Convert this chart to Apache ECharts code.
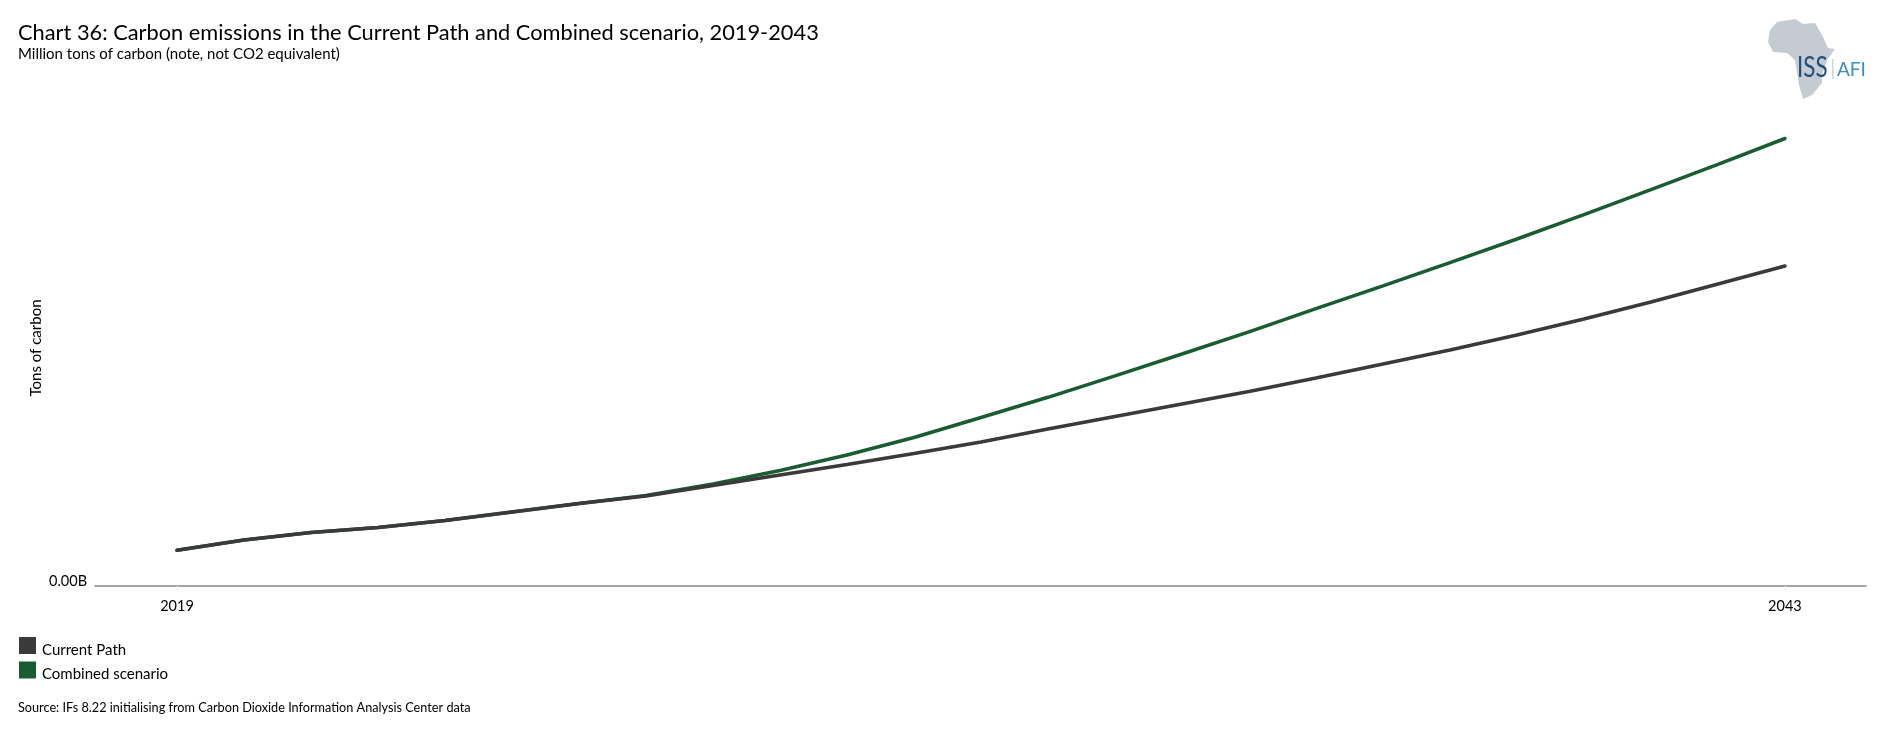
<!DOCTYPE html>
<html>
<head>
<meta charset="utf-8">
<title>Chart 36</title>
<script src="https://cdn.jsdelivr.net/npm/echarts@6/dist/echarts.min.js"></script>
<style>
html, body { margin: 0; padding: 0; background: #fff; }
#main { width: 1880px; height: 739px; }
</style>
</head>
<body>
<div id="main"></div>
<script>
var years = [2019, 2020, 2021, 2022, 2023, 2024, 2025, 2026, 2027, 2028, 2029, 2030, 2031, 2032, 2033, 2034, 2035, 2036, 2037, 2038, 2039, 2040, 2041, 2042, 2043];
// billions of tons (the source only labels 0.00B)
var currentPath = [0.357, 0.46, 0.536, 0.585, 0.656, 0.74, 0.824, 0.90, 1.005, 1.11, 1.215, 1.325, 1.44, 1.57, 1.695, 1.82, 1.945, 2.08, 2.22, 2.36, 2.51, 2.67, 2.84, 3.02, 3.2];
var combined = [0.357, 0.46, 0.536, 0.585, 0.656, 0.74, 0.824, 0.905, 1.02, 1.155, 1.31, 1.485, 1.685, 1.887, 2.102, 2.32, 2.542, 2.774, 3.002, 3.234, 3.47, 3.713, 3.963, 4.217, 4.475];
var xTicks = [2019, 2043];
var yTicks = [0];
var fontName = 'Lato';

function pairs(values) {
    return years.map(function (y, i) { return [y, values[i]]; });
}

var myChart = echarts.init(document.getElementById('main'));

var option = {
    animation: false,
    textStyle: { fontFamily: fontName, color: '#000' },
    title: [
        { text: 'Chart 36: Carbon emissions in the Current Path and Combined scenario, 2019-2043', left: 13, top: 17,
          textStyle: { fontFamily: fontName, fontSize: 21.8, fontWeight: 'normal', color: '#000' } },
        { text: 'Million tons of carbon (note, not CO2 equivalent)', left: 13, top: 42,
          textStyle: { fontFamily: fontName, fontSize: 15, fontWeight: 'normal', color: '#000' } }
    ],
    legend: {
        orient: 'vertical', left: 14, top: 632, itemWidth: 17, itemHeight: 17, itemGap: 4,
        icon: 'rect',
        formatter: function (name) { return '{a|' + name + '}'; },
        textStyle: { rich: { a: { fontFamily: fontName, fontSize: 15, color: '#000', padding: [9, 0, 0, 1] } } },
        data: ['Current Path', 'Combined scenario']
    },
    grid: { left: 95, right: 14, top: 110, height: 476 },
    xAxis: {
        type: 'value', min: 2017.776, max: 2044.21, splitLine: { show: false },
        axisLine: { onZero: false, lineStyle: { color: '#868686', width: 1.5 } },
        axisTick: { show: true, customValues: xTicks, length: 5, lineStyle: { color: '#e8e8e8' } },
        axisLabel: { customValues: xTicks, fontSize: 14.5, color: '#000', margin: 13, hideOverlap: false,
            formatter: function (v) { return String(v); } }
    },
    yAxis: {
        type: 'value', min: 0, max: 4.76, splitLine: { show: false },
        axisLine: { show: false }, axisTick: { show: false },
        name: 'Tons of carbon', nameLocation: 'middle', nameGap: 51, nameMoveOverlap: false,
        nameTextStyle: { fontSize: 15, color: '#000' },
        axisLabel: { customValues: yTicks, fontSize: 14.5, color: '#000', margin: 8, verticalAlign: 'bottom', lineHeight: 10,
            formatter: function (v) { return v.toFixed(2) + 'B'; } }
    },
    series: [
        { name: 'Combined scenario', type: 'line', showSymbol: false, smooth: false, z: 2, color: '#1a5c32',
          lineStyle: { width: 3.5, cap: 'round', color: '#1a5c32' }, data: pairs(combined) },
        { name: 'Current Path', type: 'line', showSymbol: false, smooth: false, z: 3, color: '#3a3a3a',
          lineStyle: { width: 3.5, cap: 'round', color: '#3a3a3a' }, data: pairs(currentPath) }
    ],
    graphic: [
        { type: 'text', left: 18, top: 701, style: { text: 'Source: IFs 8.22 initialising from Carbon Dioxide Information Analysis Center data',
            font: '12.7px ' + fontName, fill: '#000' } },
        // logo
        { type: 'polygon', z: 1, shape: { points: [[1777, 22], [1795, 19], [1803, 24], [1815, 23], [1822, 35], [1828, 48], [1835, 49], [1827, 60], [1822, 75], [1822, 83], [1812, 95], [1803, 99], [1799, 85], [1795, 60], [1787, 53], [1773, 52], [1768, 42], [1770, 30]] },
          style: { fill: '#c5cbd3' } },
        { type: 'text', z: 2, x: 1797, y: 54, scaleX: 0.8, style: { text: 'ISS', font: '28px ' + fontName, fill: '#1f4e79' } },
        { type: 'rect', z: 2, shape: { x: 1832, y: 59, width: 1.5, height: 20 }, style: { fill: '#c3dcd2' } },
        { type: 'text', z: 2, left: 1837, top: 60, style: { text: 'AFI', font: '19px ' + fontName, fill: '#3b8fc4' } }
    ]
};

myChart.setOption(option);
</script>
</body>
</html>
